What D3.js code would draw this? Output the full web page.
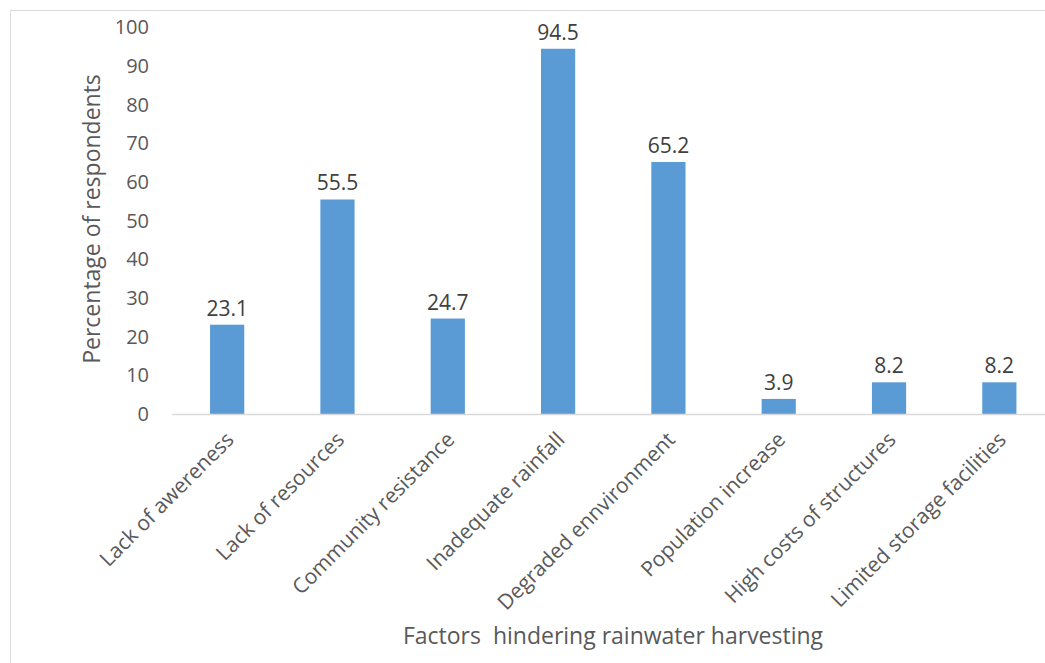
<!DOCTYPE html>
<html>
<head>
<meta charset="utf-8">
<script src="https://cdn.jsdelivr.net/npm/d3@7"></script>
<style>
  html, body { margin: 0; padding: 0; background: #fff; }
  svg { display: block; font-family: "Open Sans", Lato, sans-serif; }
</style>
</head>
<body>
<svg id="chart" width="1045" height="663"></svg>
<script>
// Factors hindering rainwater harvesting (% of respondents)
const categories = [
  "Lack of awereness",
  "Lack of resources",
  "Community resistance",
  "Inadequate rainfall",
  "Degraded ennvironment",
  "Population increase",
  "High costs of structures",
  "Limited storage facilities"
];
const percentages = [23.1, 55.5, 24.7, 94.5, 65.2, 3.9, 8.2, 8.2];
const yTicks = [0, 10, 20, 30, 40, 50, 60, 70, 80, 90, 100];

const FONT = "'Open Sans', Lato, sans-serif";
const svg = d3.select("#chart");
const W = 1045, H = 663;

// chart frame
svg.append("rect")
  .attr("x", 10.5).attr("y", 10.5)
  .attr("width", W + 20).attr("height", H + 20)
  .attr("fill", "#fff").attr("stroke", "#d9d9d9").attr("stroke-width", 1);

const plot = { left: 172, right: 1054.5, top: 27.5, bottom: 414 };

const x = d3.scaleBand()
  .domain(categories)
  .range([plot.left, plot.right])
  .paddingInner(0.69)
  .paddingOuter(0.345);

const y = d3.scaleLinear()
  .domain([0, 100])
  .range([plot.bottom, plot.top]);

// y axis labels (no line, no ticks)
const yAxis = d3.axisLeft(y).tickValues(yTicks).tickSize(0).tickPadding(0);
const gy = svg.append("g")
  .attr("transform", `translate(${plot.left - 23},0)`)
  .call(yAxis);
gy.select(".domain").remove();
gy.selectAll("text")
  .attr("fill", "#595959")
  .attr("font-size", 20)
  .attr("font-family", FONT);

// bars
svg.append("g").selectAll("rect")
  .data(percentages)
  .join("rect")
  .attr("x", (d, i) => x(categories[i]))
  .attr("y", d => y(d))
  .attr("width", x.bandwidth())
  .attr("height", d => y(0) - y(d))
  .attr("fill", "#5b9bd5");

// baseline
svg.append("line")
  .attr("x1", plot.left).attr("x2", plot.right)
  .attr("y1", plot.bottom + 0.5).attr("y2", plot.bottom + 0.5)
  .attr("stroke", "#d9d9d9").attr("stroke-width", 1.5);

// value labels
svg.append("g").selectAll("text")
  .data(percentages)
  .join("text")
  .attr("x", (d, i) => x(categories[i]) + x.bandwidth() / 2)
  .attr("y", d => y(d) - 9)
  .attr("text-anchor", "middle")
  .attr("fill", "#404040")
  .attr("font-size", 21)
  .text(d => d.toFixed(1));

// category labels rotated -45deg
const xAxis = d3.axisBottom(x).tickSize(0).tickPadding(0);
const gx = svg.append("g")
  .attr("transform", `translate(0,${plot.bottom})`)
  .call(xAxis);
gx.select(".domain").remove();
gx.selectAll("text")
  .attr("fill", "#595959")
  .attr("font-size", 21)
  .attr("font-family", FONT)
  .attr("text-anchor", "end")
  .attr("dy", null)
  .attr("y", 0)
  .attr("transform", "translate(8,27) rotate(-45)");

// axis titles
svg.append("text")
  .attr("transform", `translate(100,${219}) rotate(-90)`)
  .attr("text-anchor", "middle")
  .attr("fill", "#595959")
  .attr("font-size", 23)
  .text("Percentage of respondents");

svg.append("text")
  .attr("x", 613)
  .attr("y", 644)
  .attr("text-anchor", "middle")
  .attr("fill", "#595959")
  .attr("font-size", 23)
  .style("white-space", "pre")
  .text("Factors  hindering rainwater harvesting");
</script>
</body>
</html>
